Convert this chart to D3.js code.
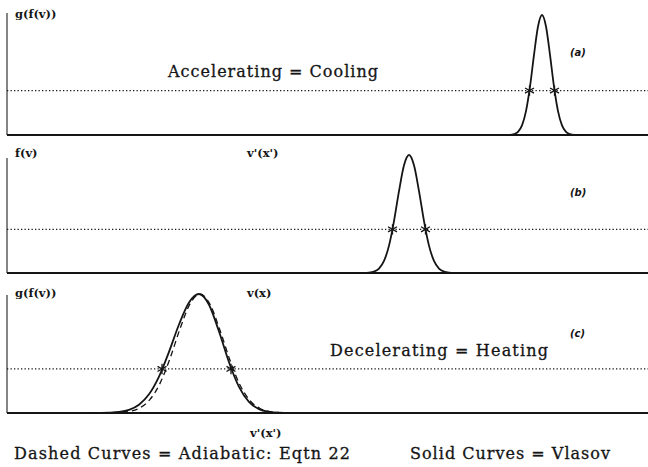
<!DOCTYPE html>
<html>
<head>
<meta charset="utf-8">
<script src="https://cdn.jsdelivr.net/npm/d3@7"></script>
<style>
  body { margin: 0; background: #fff; }
  svg { display: block; }
</style>
</head>
<body>
<div id="chart"></div>
<script>
// velocity axis (same for all three panels)
var vDomain = [0, 641];

// (a) accelerating
var vA = [0, 495, 503, 507, 511, 515, 519, 523, 527, 531, 535, 539, 543, 547, 551, 555, 559, 563, 567, 575, 641];
var solidA = [0, 0, 0.001, 0.007, 0.026, 0.08, 0.199, 0.403, 0.668, 0.904, 1, 0.904, 0.668, 0.403, 0.199, 0.08, 0.026, 0.007, 0.001, 0, 0];
var starsA = [522.5, 547.5];

// (b) reference distribution
var vB = [0, 357, 362, 367, 372, 377, 382, 387, 392, 397, 402, 407, 412, 417, 422, 427, 432, 437, 442, 447, 641];
var solidB = [0, 0.001, 0.003, 0.011, 0.037, 0.102, 0.232, 0.44, 0.694, 0.913, 1, 0.913, 0.694, 0.44, 0.232, 0.102, 0.037, 0.011, 0.003, 0.001, 0];
var starsB = [385.5, 418.5];

// (c) decelerating, solid = Vlasov, dashed = adiabatic
var vC = [0, 82, 92, 102, 112, 122, 132, 142, 152, 162, 172, 182, 192, 202, 212, 222, 232, 242, 252, 262, 272, 282, 641];
var solidC = [0, 0, 0.001, 0.003, 0.009, 0.027, 0.07, 0.157, 0.306, 0.514, 0.744, 0.929, 1, 0.91, 0.685, 0.427, 0.22, 0.094, 0.033, 0.01, 0.002, 0, 0];
var vCd = [95, 103, 113, 123, 133, 143, 153, 163, 173, 183, 193, 203, 213, 223, 233, 243, 253, 263, 273, 283, 293];
var dashedC = [0, 0.001, 0.004, 0.014, 0.044, 0.114, 0.249, 0.458, 0.707, 0.917, 1, 0.913, 0.696, 0.443, 0.235, 0.104, 0.038, 0.012, 0.003, 0.0006, 0];
var starsC = [155, 224];

var halfLevel = 0.37;   // level of the dotted line

var width = 648, height = 467;
var ink = "#151515";

var svg = d3.select("#chart").append("svg")
    .attr("width", width)
    .attr("height", height);

var x = d3.scaleLinear().domain(vDomain).range([7, 648]);

var panels = [
    { v: vA, f: solidA, stars: starsA, base: 135, peak: 15, axisTop: 13, tag: "(a)", tagY: 56,
      yLabel: "g(f(v))", yLabelY: 18, xLabel: null },
    { v: vB, f: solidB, stars: starsB, base: 273, peak: 155, axisTop: 158, tag: "(b)", tagY: 196,
      yLabel: "f(v)", yLabelY: 157, xLabel: "v'(x')" },
    { v: vC, f: solidC, stars: starsC, base: 413, peak: 294, axisTop: 295, tag: "(c)", tagY: 337,
      yLabel: "g(f(v))", yLabelY: 297, xLabel: "v(x)", dv: vCd, df: dashedC }
];

var line = d3.line().curve(d3.curveMonotoneX);

function small_label(sel) {
    sel.style("font-family", "DejaVu Serif")
        .style("font-weight", "bold")
        .style("font-size", "11.5px")
        .attr("fill", ink);
}

panels.forEach(function(p) {
    var y = d3.scaleLinear().domain([0, 1]).range([p.base, p.peak]);
    var g = svg.append("g");

    // left axis and baseline
    g.append("line")
        .attr("x1", x(0)).attr("x2", x(0))
        .attr("y1", p.axisTop).attr("y2", y(0))
        .attr("stroke", "#333").attr("stroke-width", 1.2);
    g.append("line")
        .attr("x1", x(0)).attr("x2", x(vDomain[1]))
        .attr("y1", y(0)).attr("y2", y(0))
        .attr("stroke", ink).attr("stroke-width", 1.8);

    // dotted level
    g.append("line")
        .attr("x1", x(0)).attr("x2", x(vDomain[1]))
        .attr("y1", y(halfLevel)).attr("y2", y(halfLevel))
        .attr("stroke", ink).attr("stroke-width", 1.3)
        .attr("stroke-dasharray", "1.3,2.2");

    if (p.dv) {
        g.append("path")
            .attr("d", line(p.dv.map(function(v, i) { return [x(v), y(p.df[i])]; })))
            .attr("fill", "none")
            .attr("stroke", ink).attr("stroke-width", 1.3)
            .attr("stroke-dasharray", "6,4");
    }

    g.append("path")
        .attr("d", line(p.v.map(function(v, i) { return [x(v), y(p.f[i])]; })))
        .attr("fill", "none")
        .attr("stroke", ink).attr("stroke-width", 1.8);

    g.selectAll(".star")
        .data(p.stars)
        .enter()
        .append("path")
        .attr("class", "star")
        .attr("transform", function(d) { return "translate(" + x(d) + "," + y(halfLevel) + ")"; })
        .attr("d", d3.symbol(d3.symbolAsterisk, 75))
        .attr("fill", "none")
        .attr("stroke", ink).attr("stroke-width", 1.3);

    g.append("text")
        .text(p.yLabel)
        .attr("x", 15).attr("y", p.yLabelY)
        .call(small_label);

    if (p.xLabel) {
        g.append("text")
            .text(p.xLabel)
            .attr("x", 247).attr("y", p.yLabelY)
            .call(small_label);
    }

    g.append("text")
        .text(p.tag)
        .attr("x", 570).attr("y", p.tagY)
        .style("font-family", "DejaVu Sans")
        .style("font-style", "italic")
        .style("font-weight", "bold")
        .style("font-size", "10px")
        .attr("fill", ink);
});

// bottom axis label
svg.append("text")
    .text("v'(x')")
    .attr("x", 250).attr("y", 437)
    .call(small_label);

var notes = [
    { text: "Accelerating = Cooling", x: 168, y: 77, w: 210 },
    { text: "Decelerating = Heating", x: 330, y: 356, w: 218 },
    { text: "Dashed Curves = Adiabatic: Eqtn 22", x: 14, y: 459, w: 336 },
    { text: "Solid Curves = Vlasov", x: 410, y: 459, w: 200 }
];

svg.selectAll(".note")
    .data(notes)
    .enter()
    .append("text")
    .attr("class", "note")
    .text(function(d) { return d.text; })
    .attr("x", function(d) { return d.x; })
    .attr("y", function(d) { return d.y; })
    .attr("textLength", function(d) { return d.w; })
    .attr("lengthAdjust", "spacing")
    .style("font-family", "DejaVu Serif")
    .style("font-size", "16px")
    .attr("fill", ink)
    .attr("stroke", ink)
    .attr("stroke-width", 0.3);
</script>
</body>
</html>
